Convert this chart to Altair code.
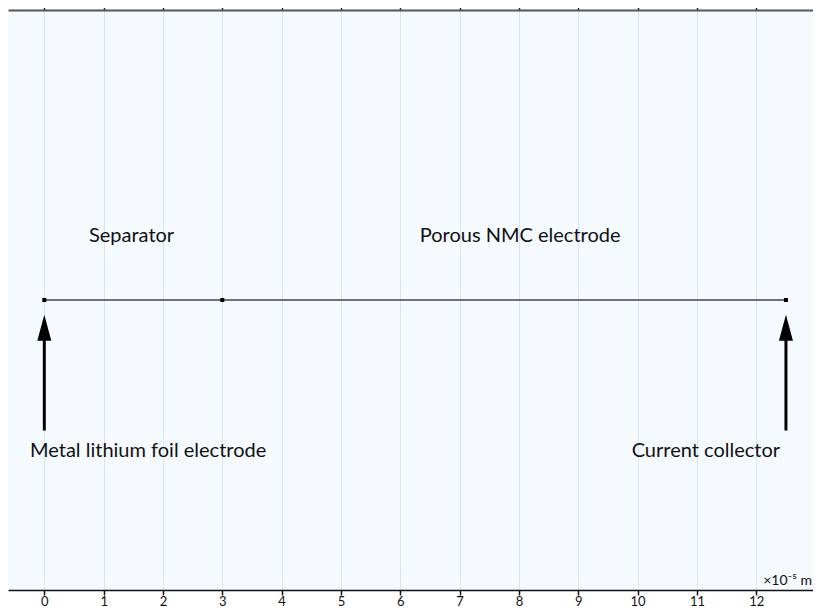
import altair as alt
import pandas as pd

# ---- data ----
tick_values = list(range(0, 13))
line_x = [0, 12.5]
line_y = [0, 0]
vertex_x = [0, 3, 12.5]
vertex_y = [0, 0, 0]
arrow_x = [0, 12.5]
arrow_tail_y = [-0.45, -0.45]
arrow_shaft_top_y = [-0.13, -0.13]
arrow_head_y = [-0.096, -0.096]
label_text = ["Separator", "Porous NMC electrode",
              "Metal lithium foil electrode", "Current collector"]
label_x = [1.47, 8.02, 1.75, 11.15]
label_y = [0.2, 0.2, -0.54, -0.54]
x_domain = [-0.612, 12.956]
y_domain = [-1, 1]
unit_label = ["×10⁻⁵ m"]

W, H = 805, 580
FONT = "Lato"

line_df = pd.DataFrame({"x": line_x, "y": line_y})
vert_df = pd.DataFrame({"x": vertex_x, "y": vertex_y})
arrow_df = pd.DataFrame({"x": arrow_x, "y1": arrow_tail_y, "y2": arrow_shaft_top_y,
                         "yh": arrow_head_y})
lab_df = pd.DataFrame({"x": label_x, "y": label_y, "t": label_text})
unit_df = pd.DataFrame({"t": unit_label})

xs = alt.Scale(domain=x_domain, nice=False, zero=False)
ys = alt.Scale(domain=y_domain, nice=False, zero=False)

bottom_axis = alt.Axis(orient="bottom", values=tick_values, title=None,
                       grid=True, gridColor="#d5e5f3", gridWidth=1,
                       domainColor="#111111", domainWidth=1.5,
                       tickColor="#111111", tickWidth=1.5, tickSize=5,
                       labelFont=FONT, labelFontSize=13, labelColor="#111111",
                       labelPadding=0)
top_axis = alt.Axis(orient="top", values=tick_values, title=None, grid=False,
                    labels=False, domainColor="#555555", domainWidth=2,
                    tickColor="#222222", tickWidth=1.5, tickSize=5)

line = alt.Chart(line_df).mark_line(color="#444444", strokeWidth=1.6).encode(
    x=alt.X("x:Q", scale=xs, axis=bottom_axis),
    y=alt.Y("y:Q", scale=ys, axis=None),
)
top = alt.Chart(line_df).mark_line(opacity=0).encode(
    x=alt.X("x:Q", scale=xs, axis=top_axis),
    y=alt.Y("y:Q", scale=ys, axis=None),
)
verts = alt.Chart(vert_df).mark_square(color="#000000", size=16, opacity=1).encode(
    x=alt.X("x:Q", scale=xs, axis=None), y=alt.Y("y:Q", scale=ys, axis=None))
shaft = alt.Chart(arrow_df).mark_rule(color="#000000", strokeWidth=3).encode(
    x=alt.X("x:Q", scale=xs, axis=None), y=alt.Y("y1:Q", scale=ys, axis=None),
    y2="y2:Q")
head = alt.Chart(arrow_df).mark_point(
    shape="M0,-1L0.54,1L-0.54,1Z", size=676, filled=True, color="#000000",
    opacity=1, strokeWidth=0).encode(
    x=alt.X("x:Q", scale=xs, axis=None), y=alt.Y("yh:Q", scale=ys, axis=None))
labels = alt.Chart(lab_df).mark_text(
    font=FONT, fontSize=20, color="#111111", align="center",
    baseline="alphabetic").encode(
    x=alt.X("x:Q", scale=xs, axis=None), y=alt.Y("y:Q", scale=ys, axis=None),
    text="t:N")
unit = alt.Chart(unit_df).mark_text(
    font=FONT, fontSize=14, color="#111111", align="right",
    baseline="alphabetic").encode(
    x=alt.value(W - 1), y=alt.value(H - 5), text="t:N")

chart = alt.layer(line, top, verts, shaft, head, labels, unit).resolve_axis(
    x="independent"
).properties(
    width=W, height=H,
    autosize=alt.AutoSizeParams(type="none"),
    padding={"left": 0, "top": 2, "right": 0, "bottom": 18},
    background="#ffffff",
).configure_view(stroke=None, fill="#f5faff")

chart.save("out.html", embed_options={"renderer": "svg", "actions": False})
